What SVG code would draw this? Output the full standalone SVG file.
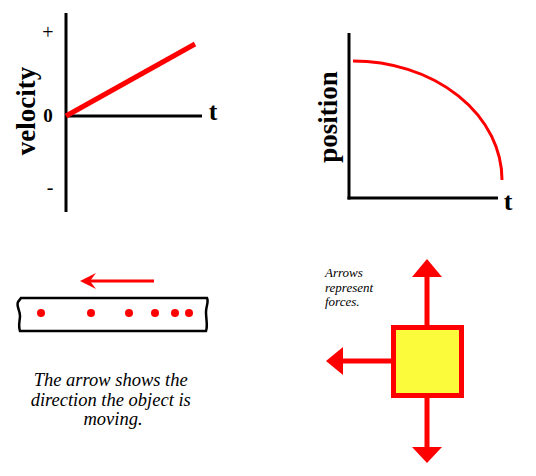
<svg xmlns="http://www.w3.org/2000/svg" width="536" height="476" viewBox="0 0 536 476">
<style>
.ax{stroke:#000;stroke-width:3;fill:none;stroke-linecap:butt}
.lbl{font-family:"Liberation Serif",serif;font-weight:bold;fill:#000}
.it{font-family:"Liberation Serif",serif;font-style:italic;fill:#000}
.red{fill:#ff0000}
</style>
<g id="velocity-graph">
<line class="ax" x1="66" y1="13" x2="66" y2="212"/>
<line class="ax" x1="66" y1="116" x2="202" y2="116"/>
<line x1="66" y1="116" x2="195" y2="44" stroke="#ff0000" stroke-width="5"/>
<text class="lbl" x="213" y="120" font-size="26" text-anchor="middle">t</text>
<text x="48" y="39" font-family="Liberation Serif,serif" font-size="20" text-anchor="middle">+</text>
<text class="lbl" x="48" y="122" font-size="19" text-anchor="middle">0</text>
<text x="50" y="194" font-family="Liberation Serif,serif" font-size="20" text-anchor="middle">-</text>
<text class="lbl" transform="translate(35,111) rotate(-90)" font-size="27" text-anchor="middle">velocity</text>
</g>
<g id="position-graph">
<line class="ax" x1="349" y1="33" x2="349" y2="199.5"/>
<line class="ax" x1="347.5" y1="198" x2="498" y2="198"/>
<path d="M353,61 A149,119 0 0 1 502,180" fill="none" stroke="#ff0000" stroke-width="3"/>
<text class="lbl" x="508" y="210" font-size="26" text-anchor="middle">t</text>
<text class="lbl" transform="translate(337,117) rotate(-90)" font-size="27" text-anchor="middle">position</text>
</g>
<g id="motion-strip">
<path d="M21,298 L207,298 C209,302 206,306 206,312 C206,320 208,326 206,331 L20,331 C18,326 20,320 20,316 C20,310 16,306 18,302 Z" fill="#fff" stroke="#000" stroke-width="2.5"/>
<g class="red">
<circle cx="41" cy="313" r="4"/>
<circle cx="91" cy="313" r="4"/>
<circle cx="129" cy="313" r="4"/>
<circle cx="155" cy="313" r="4"/>
<circle cx="175" cy="313" r="4"/>
<circle cx="189" cy="313" r="4"/>
</g>
</g>
<g id="motion-arrow">
<line x1="154" y1="281" x2="88" y2="281" stroke="#ff0000" stroke-width="3"/>
<path d="M80,281 L96,273 L90,281 L96,289 Z" class="red"/>
</g>
<g id="motion-caption">
<text class="it" font-size="18.5" text-anchor="middle">
<tspan x="113" y="386">The arrow shows the</tspan>
<tspan x="113" y="406">direction the object is</tspan>
<tspan x="113" y="425">moving.</tspan>
</text>
</g>
<g id="forces-caption">
<text class="it" font-size="13">
<tspan x="325" y="277">Arrows</tspan>
<tspan x="325" y="292">represent</tspan>
<tspan x="325" y="306">forces.</tspan>
</text>
</g>
<g id="force-arrows" class="red">
<rect x="424.5" y="276" width="5" height="51"/>
<polygon points="412,277 442,277 427,259"/>
<rect x="424.5" y="396" width="5" height="52"/>
<polygon points="412,447 442,447 427,463"/>
<rect x="342" y="358.5" width="51" height="5"/>
<polygon points="343,347 343,375 326,361"/>
</g>
<g id="box">
<rect x="393.5" y="327.5" width="68" height="68" fill="#fbfb3c" stroke="#ff0000" stroke-width="5"/>
</g>
</svg>
